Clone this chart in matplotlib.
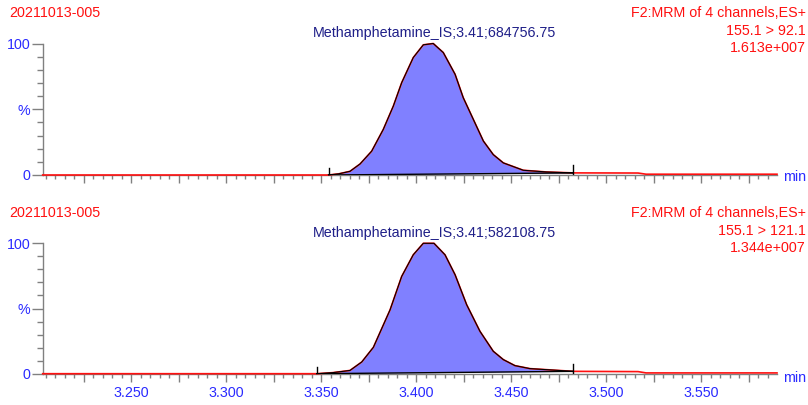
import numpy as np
import matplotlib
matplotlib.use('Agg')
import matplotlib.pyplot as plt
from matplotlib.ticker import MultipleLocator, FuncFormatter

plt.rcParams['font.family'] = ['Liberation Sans', 'DejaVu Sans']

sample_name = '20211013-005'
func_name = 'F2:MRM of 4 channels,ES+'
transitions = ['155.1 > 92.1', '155.1 > 121.1']
max_counts = ['1.613e+007', '1.344e+007']
peak_labels = ['Methamphetamine_IS;3.41;684756.75',
               'Methamphetamine_IS;3.41;582108.75']

# trace 155.1 > 92.1 (% of max)
time_1 = [3.2034, 3.3538, 3.3592, 3.3651, 3.3704, 3.3765, 3.3826, 3.3879,
          3.3923, 3.3984, 3.4037, 3.4089, 3.4142, 3.4204, 3.4247, 3.4300,
          3.4353, 3.4405, 3.4458, 3.4563, 3.4686, 3.4826, 3.5167, 3.5209,
          3.5898]
inten_1 = [0.0, 0.0, 0.9, 2.8, 8.4, 18.1, 34.6, 52.4,
           70.2, 89.3, 99.0, 100.0, 93.1, 76.6, 58.8, 42.3,
           25.8, 15.5, 9.2, 3.6, 2.3, 1.6, 1.5, 0.6,
           0.6]
peak_1 = (3.3538, 3.4826)

# trace 155.1 > 121.1 (% of max)
time_2 = [3.2034, 3.3476, 3.3560, 3.3651, 3.3713, 3.3774, 3.3862, 3.3923,
          3.3984, 3.4037, 3.4093, 3.4151, 3.4204, 3.4265, 3.4335, 3.4405,
          3.4458, 3.4519, 3.4598, 3.4826, 3.5167, 3.5209, 3.5898]
inten_2 = [0.0, 0.0, 0.8, 2.5, 9.0, 20.2, 49.0, 74.6,
           91.2, 100.0, 100.0, 91.2, 75.9, 52.9, 32.5, 17.2,
           10.8, 6.2, 3.9, 1.8, 1.6, 0.6, 0.6]
peak_2 = (3.3476, 3.4826)

RED = '#ff1010'
BLUE = '#2a2aff'
NAVY = '#1f1f88'
GREY = '#808080'
FS = 10.3

fig = plt.figure(figsize=(8.08, 4.05), dpi=100)
W, H = 808.0, 405.0


def draw_panel(rect, t, y, peak, transition, maxc, label, top_px, show_xlabels):
    ax = fig.add_axes(rect)
    t = np.array(t)
    y = np.array(y)
    ax.set_xlim(3.2034, 3.5898)
    ax.set_ylim(0, 100)

    # integrated area
    s, e = peak
    m = (t >= s) & (t <= e)
    ys, ye = np.interp(s, t, y), np.interp(e, t, y)
    base = ys + (t[m] - s) / (e - s) * (ye - ys)
    ax.fill_between(t[m], base, y[m], color='#8080ff', lw=0, zorder=2)
    ax.plot(t, y, color=RED, lw=1.2, zorder=3, clip_on=False)
    ax.plot(t[m], y[m], color='black', lw=0.8, zorder=4, clip_on=False)
    ax.plot([s, e], [ys, ye], color='black', lw=1.0, zorder=4)
    ax.plot([s, s], [ys, ys + 5.5], color='black', lw=1.0, zorder=4)
    ax.plot([e, e], [ye - 1.5, ye + 6], color='black', lw=1.0, zorder=4)

    for sp in ['top', 'right']:
        ax.spines[sp].set_visible(False)
    for sp in ['left', 'bottom']:
        ax.spines[sp].set_color(GREY)
        ax.spines[sp].set_linewidth(1.0)

    ax.xaxis.set_major_locator(MultipleLocator(0.025))
    ax.xaxis.set_minor_locator(MultipleLocator(0.005))
    if show_xlabels:
        ax.xaxis.set_major_formatter(FuncFormatter(
            lambda v, p: '%.3f' % v if abs(round(v / 0.05) * 0.05 - v) < 1e-6 else ''))
    else:
        ax.xaxis.set_major_formatter(FuncFormatter(lambda v, p: ''))
    ax.set_yticks([0, 50, 100])
    ax.set_yticklabels(['0', '%', '100'])
    ax.yaxis.set_minor_locator(MultipleLocator(10))

    ax.tick_params(axis='x', which='major', length=6, width=1, color=GREY,
                   labelcolor=BLUE, labelsize=FS, pad=3)
    ax.tick_params(axis='x', which='minor', length=3, width=1, color=GREY)
    ax.tick_params(axis='y', which='major', length=8, width=1, color=GREY,
                   labelcolor=BLUE, labelsize=FS, pad=1)
    ax.tick_params(axis='y', which='minor', length=4, width=1, color=GREY)

    # header texts
    fig.text(9 / W, 1 - (top_px + 13.3) / H, sample_name, color=RED,
             fontsize=FS, ha='left', va='center')
    fig.text(806 / W, 1 - (top_px + 13.3) / H, func_name, color=RED,
             fontsize=FS, ha='right', va='center')
    fig.text(806 / W, 1 - (top_px + 31.0) / H, transition, color=RED,
             fontsize=FS, ha='right', va='center')
    fig.text(806 / W, 1 - (top_px + 48.3) / H, maxc, color=RED,
             fontsize=FS, ha='right', va='center')
    fig.text(434 / W, 1 - (top_px + 33.3) / H, label, color=NAVY,
             fontsize=FS, ha='center', va='center')
    fig.text(794.5 / W, 1 - (top_px + 177.5) / H, 'min', color=BLUE,
             fontsize=FS, ha='center', va='center')
    return ax


left = 42.7 / W
width = (777 - 42.7) / W
draw_panel([left, 1 - 175 / H, width, 131.5 / H], time_1, inten_1, peak_1,
           transitions[0], max_counts[0], peak_labels[0], 0, False)
draw_panel([left, 1 - 373.7 / H, width, 130.4 / H], time_2, inten_2, peak_2,
           transitions[1], max_counts[1], peak_labels[1], 200, True)

fig.savefig('out.png', dpi=100)
